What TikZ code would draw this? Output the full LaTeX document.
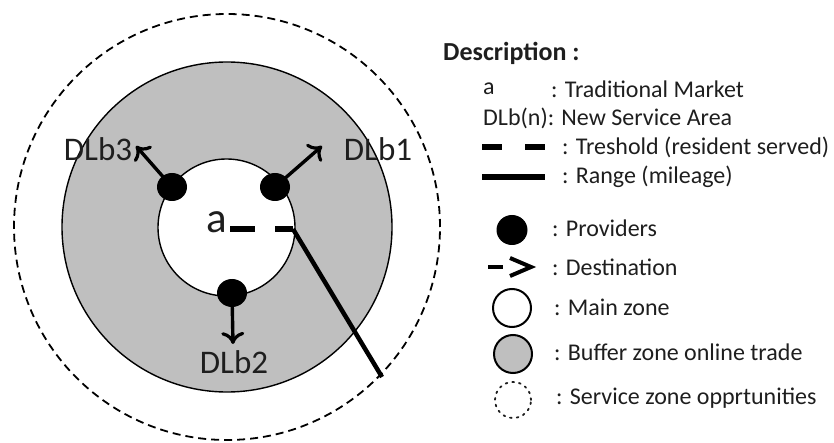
\documentclass[tikz,border=0pt]{standalone}
\usepackage{fontspec}
\setmainfont{Carlito}
\usetikzlibrary{arrows.meta,shapes.geometric}
\definecolor{zonegray}{RGB}{191,191,191}
\definecolor{txt}{RGB}{30,30,30}
\begin{document}
\begin{tikzpicture}[x=1pt,y=-1pt,
  zone/.style={circle,draw=black,line width=1.4pt,inner sep=0pt},
  provider/.style={ellipse,fill=black,inner sep=0pt,minimum width=30pt,minimum height=28pt},
  destarrow/.style={-{To[length=12pt,width=23pt,line width=3.2pt]},line width=3.4pt},
  biglbl/.style={text=txt,font=\fontsize{33}{38}\selectfont,inner sep=0pt},
  lgd/.style={text=txt,font=\fontsize{24}{29}\selectfont,inner sep=0pt,anchor=west},
  rangeline/.style={line width=4.5pt}
]
\useasboundingbox (0,0) rectangle (834,443);
% zones
\node[zone,dash pattern=on 8pt off 5pt,line width=1.8pt,minimum size=426pt] (service) at (227,227) {};
\node[zone,fill=zonegray,minimum size=330pt] (buffer) at (227,227) {};
\node[zone,fill=white,minimum size=137pt] (main) at (226.5,227.5) {};
% market and threshold
\node[biglbl,font=\fontsize{43}{48}\selectfont,anchor=base] (a) at (217,233) {a};
\coordinate (t0) at (230,229);
\coordinate (t1) at (293,229);
\coordinate (r1) at (382,377);
\draw[line width=5.5pt,dash pattern=on 25pt off 20pt] (t0) -- (t1);
\draw[rangeline] (t1) -- (r1);
% providers
\node[provider] (p3) at (172,187) {};
\node[provider] (p1) at (275,187) {};
\node[provider] (p2) at (232,293) {};
\coordinate (d3) at (136,146);
\coordinate (d1) at (322,146);
\coordinate (d2) at (233,344);
\draw[destarrow] (p3.center) -- (d3);
\draw[destarrow] (p1.center) -- (d1);
\draw[destarrow] (p2.center) -- (d2);
\node[biglbl] (l3) at (98,149) {DLb3};
\node[biglbl] (l1) at (378,149) {DLb1};
\node[biglbl] (l2) at (234,362) {DLb2};
% legend
\node[lgd,font=\fontsize{26}{30}\selectfont\bfseries] (desc) at (443,53) {Description :};
\node[lgd] (la) at (483,89) {a};
\node[lgd] (ta) at (551,89) {: Traditional Market};
\node[lgd] (tdlb) at (483,118) {DLb(n): New Service Area};
\node[lgd] (tthr) at (562,147) {: Treshold (resident served)};
\node[lgd] (trng) at (562,177) {: Range (mileage)};
\node[lgd] (tprov) at (552,228) {: Providers};
\node[lgd] (tdest) at (552,267) {: Destination};
\node[lgd] (tmain) at (554,307) {: Main zone};
\node[lgd] (tbuf) at (554,352) {: Buffer zone online trade};
\node[lgd] (tserv) at (556,398) {: Service zone opprtunities};
% legend symbols
\coordinate (s1a) at (482,147);
\coordinate (s1b) at (545,147);
\draw[line width=6pt,dash pattern=on 20pt off 23pt] (s1a) -- (s1b);
\coordinate (s2a) at (482,177);
\coordinate (s2b) at (545,177);
\draw[line width=6pt] (s2a) -- (s2b);
\node[provider,minimum width=31pt,minimum height=30pt] (sprov) at (512,230) {};
\coordinate (s3a) at (488,267);
\coordinate (s3b) at (503,267);
\draw[line width=4.5pt] (s3a) -- (s3b);
\coordinate (s4a) at (510,258);
\coordinate (s4b) at (531,267);
\coordinate (s4c) at (510,276);
\draw[line width=4pt,line join=miter] (s4a) -- (s4b) -- (s4c);
\node[zone,fill=white,line width=2pt,minimum size=38pt] (smain) at (512,308) {};
\node[zone,fill=zonegray,line width=2pt,minimum size=38pt] (sbuf) at (513,354) {};
\node[zone,draw=txt,line width=1.8pt,dash pattern=on 1.8pt off 5pt,line cap=round,minimum size=36pt] (sserv) at (513,400) {};
\end{tikzpicture}
\end{document}
